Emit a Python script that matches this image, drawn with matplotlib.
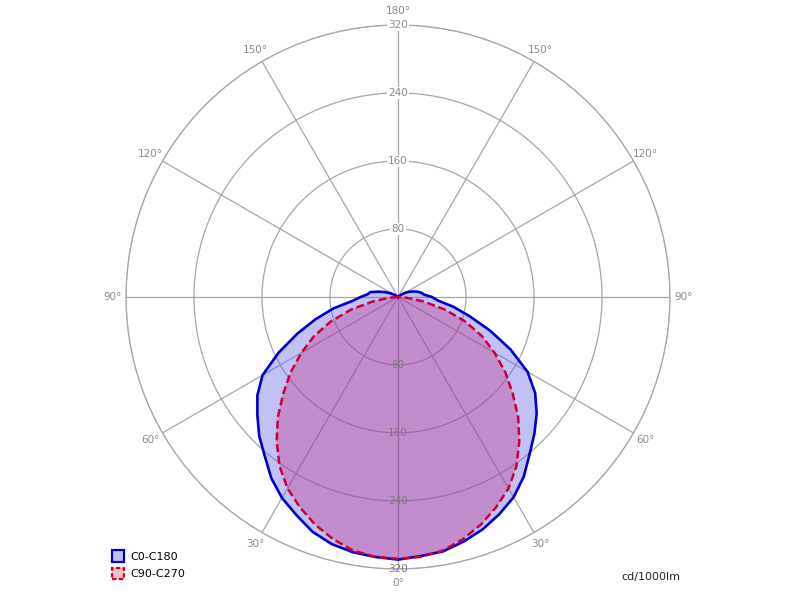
import numpy as np
import matplotlib
matplotlib.use('Agg')
import matplotlib.pyplot as plt
from matplotlib.patches import Patch

# Gamma angles (deg) measured from nadir
angles = list(range(0, 185, 5))

# C0 half-plane (right side), cd/1000lm
c0 = [309, 306, 304, 298, 291, 282, 272, 258, 241, 227, 213, 197, 176, 146,
      115, 87, 66, 47, 40, 31, 28, 24, 19, 14, 10, 5, 0, 0, 0, 0, 0, 0, 0, 0, 0, 0, 0]
# C180 half-plane (left side)
c180 = [309, 307, 305, 301, 294, 283, 273, 260, 244, 231, 216, 202, 184, 155,
        126, 100, 77, 54, 44, 36, 33, 24, 17, 11, 6, 3, 0, 0, 0, 0, 0, 0, 0, 0, 0, 0, 0]
# C90 / C270 (symmetric)
c90 = [308, 307, 303, 295, 285, 273, 260, 243, 222, 200, 176, 154, 131, 109,
       84, 57, 30, 10, 0, 0, 0, 0, 0, 0, 0, 0, 0, 0, 0, 0, 0, 0, 0, 0, 0, 0, 0]
c270 = c90

ring_values = [80, 160, 240, 320]
angle_ticks = [0, 30, 60, 90, 120, 150, 180]
series_labels = ['C0-C180', 'C90-C270']
unit_label = 'cd/1000lm'

fig = plt.figure(figsize=(8, 6), dpi=100)
ax = fig.add_axes([0.1575, 0.0517, 0.68, 0.9067], projection='polar')
ax.set_theta_zero_location('S')
ax.set_theta_direction(1)
ax.set_ylim(0, 320)
ax.set_thetagrids(range(0, 360, 30), labels=[''] * 12)
ax.set_rgrids(ring_values, labels=[''] * len(ring_values))
ax.grid(color='#a6a6a6', lw=0.9)
ax.spines['polar'].set_color('#a6a6a6')
ax.spines['polar'].set_linewidth(0.9)
ax.set_axisbelow(True)
ax.patch.set_facecolor('white')

a = np.radians(angles)
th_blue = np.concatenate([-a[::-1], a[1:]])
r_blue = np.concatenate([np.array(c180)[::-1], np.array(c0)[1:]])
th_red = np.concatenate([-a[::-1], a[1:]])
r_red = np.concatenate([np.array(c270)[::-1], np.array(c90)[1:]])

blue_fill = (100/255, 100/255, 230/255)
red_fill = (199/255, 41/255, 131/255)
ax.fill(th_blue, r_blue, color=blue_fill, alpha=0.4, lw=0, zorder=2)
ax.fill(th_red, r_red, color=red_fill, alpha=0.35, lw=0, zorder=3)
ax.plot(th_blue, r_blue, color='#0000cc', lw=1.9, zorder=4)
ax.plot(th_red, r_red, color='#cc0033', lw=1.8, linestyle=(0, (3.2, 1.5)), zorder=5)

# ring labels
for v in ring_values:
    ax.text(np.pi, v, str(v), ha='center', va='center', fontsize=7.5, color='#8a8a8a',
            bbox=dict(facecolor='white', edgecolor='none', pad=1.0), zorder=6)
    ax.text(0, v, str(v), ha='center', va='center', fontsize=7.5, color='#7a7a7a', zorder=6)

# angle labels
for d in angle_ticks:
    for s in ([1] if d in (0, 180) else [1, -1]):
        ax.text(np.radians(s * d), 336, f'{d}°', ha='center', va='center', fontsize=7.5,
                color='#8a8a8a', clip_on=False)

handles = [
    Patch(facecolor=(0.76, 0.76, 0.96), edgecolor='#0000cc', lw=1.6),
    Patch(facecolor=(0.97, 0.75, 0.80), edgecolor='#dd0022', lw=1.6, linestyle=(0, (2, 1))),
]
fig.legend(handles, series_labels, loc='lower left', bbox_to_anchor=(0.127, 0.018),
           frameon=False, fontsize=8, handlelength=1.1, handleheight=1.2,
           labelspacing=0.55, handletextpad=0.6)
fig.text(0.851, 0.038, unit_label, ha='right', va='center', fontsize=8, color='#222222')

fig.savefig('out.png', dpi=100, facecolor='white')
